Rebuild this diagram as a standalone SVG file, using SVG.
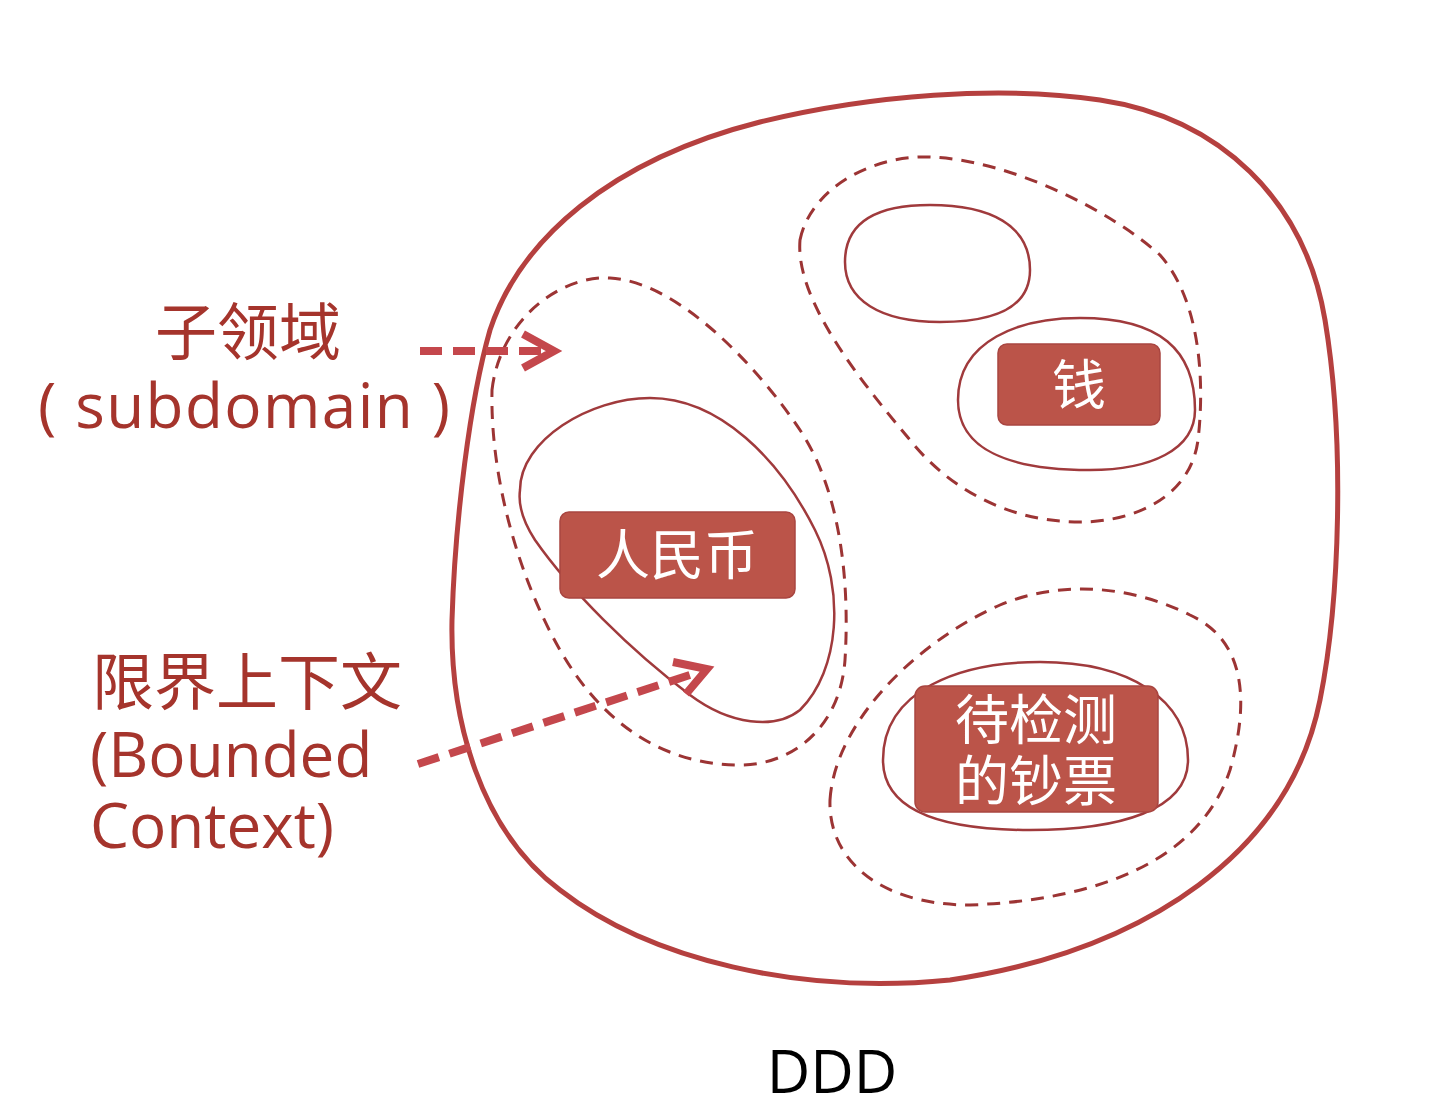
<svg xmlns="http://www.w3.org/2000/svg" width="1449" height="1104" viewBox="0 0 1449 1104">
<style>
.outer{fill:none;stroke:#b5403f;stroke-width:5}
.dash{fill:none;stroke:#9c3434;stroke-width:3;stroke-dasharray:13 9}
.solid{fill:none;stroke:#a03a3c;stroke-width:2.5}
.box{fill:#bb5449;stroke:#a94540;stroke-width:1.5}
.boxtxt{fill:#ffffff;font-family:"Noto Sans CJK SC","Noto Sans",sans-serif;font-size:54px;text-anchor:middle}
.lbl{fill:#a5342c;font-family:"Open Sans","Noto Sans CJK SC",sans-serif;font-size:62px}
.arr{fill:none;stroke:#c4474c;stroke-width:8}
.arrdash{stroke-dasharray:22 11}
</style>
<rect width="1449" height="1104" fill="#ffffff"/>
<g id="ddd-domain">
<path class="outer" d="M 490 330 C 520 240, 610 160, 760 122 C 870 95, 1000 85, 1100 100 C 1220 118, 1305 200, 1325 320 C 1345 440, 1340 600, 1320 700 C 1290 850, 1150 950, 950 980 C 800 995, 650 960, 560 890 C 480 830, 450 720, 452 620 C 455 520, 470 400, 490 330 Z"/>
</g>
<g id="subdomain-left">
<path class="dash" d="M 492 390 C 500 320, 560 275, 610 278 C 680 282, 760 370, 800 430 C 840 490, 850 580, 845 660 C 840 730, 790 765, 740 765 C 660 765, 600 720, 560 650 C 520 580, 490 480, 492 390 Z"/>
</g>
<g id="context-rmb">
<path class="solid" d="M 520 490 C 520 440, 590 398, 650 398 C 720 398, 780 460, 815 530 C 845 590, 840 670, 800 710 C 775 730, 730 725, 690 695 C 630 650, 570 590, 535 540 C 522 520, 518 505, 520 490 Z"/>
<rect class="box" x="560" y="512" width="235" height="86" rx="9"/>
<text class="boxtxt" x="677" y="575">人民币</text>
</g>
<g id="subdomain-top">
<path class="dash" d="M 800 240 C 810 190, 870 155, 930 157 C 1010 160, 1110 210, 1160 255 C 1200 300, 1205 380, 1198 440 C 1190 500, 1130 522, 1080 522 C 1010 522, 950 490, 910 440 C 860 380, 795 300, 800 240 Z"/>
</g>
<g id="context-empty">
<path class="solid" d="M 845 262 C 845 220, 880 205, 930 205 C 990 205, 1030 225, 1030 270 C 1030 310, 990 322, 940 322 C 880 322, 845 300, 845 262 Z"/>
</g>
<g id="context-money">
<path class="solid" d="M 958 400 C 958 340, 1020 318, 1080 318 C 1160 318, 1195 350, 1195 410 C 1195 450, 1150 470, 1090 470 C 1010 470, 958 450, 958 400 Z"/>
<rect class="box" x="998" y="344" width="162" height="81" rx="9"/>
<text class="boxtxt" x="1079" y="405">钱</text>
</g>
<g id="subdomain-bottom">
<path class="dash" d="M 830 800 C 835 720, 920 640, 1000 605 C 1060 580, 1130 585, 1190 615 C 1245 640, 1250 700, 1230 770 C 1200 860, 1100 900, 970 905 C 880 905, 828 860, 830 800 Z"/>
</g>
<g id="context-notes">
<path class="solid" d="M 883 760 C 883 690, 960 662, 1040 662 C 1130 662, 1188 700, 1188 760 C 1188 810, 1120 830, 1030 830 C 940 830, 883 810, 883 760 Z"/>
<rect class="box" x="915" y="686" width="243" height="126" rx="10"/>
<text class="boxtxt" x="1036" y="740">待检测</text>
<text class="boxtxt" x="1036" y="801">的钞票</text>
</g>
<g id="label-subdomain">
<text class="lbl" x="248" y="355" text-anchor="middle">子领域</text>
<text class="lbl" x="38" y="428" textLength="412" lengthAdjust="spacing">( subdomain )</text>
</g>
<g id="label-bounded-context">
<text class="lbl" x="92" y="705">限界上下文</text>
<text class="lbl" x="90" y="777">(Bounded</text>
<text class="lbl" x="90" y="848">Context)</text>
</g>
<g id="connectors">
<line class="arr arrdash" x1="420" y1="351" x2="548" y2="351"/>
<polyline class="arr" points="523,334 554,351 523,368"/>
<line class="arr arrdash" x1="418" y1="764" x2="702" y2="671"/>
<polyline class="arr" points="673,662 707,669 686,694"/>
</g>
<text x="832" y="1093" text-anchor="middle" font-family="Open Sans, sans-serif" font-size="60" fill="#000000">DDD</text>
</svg>
